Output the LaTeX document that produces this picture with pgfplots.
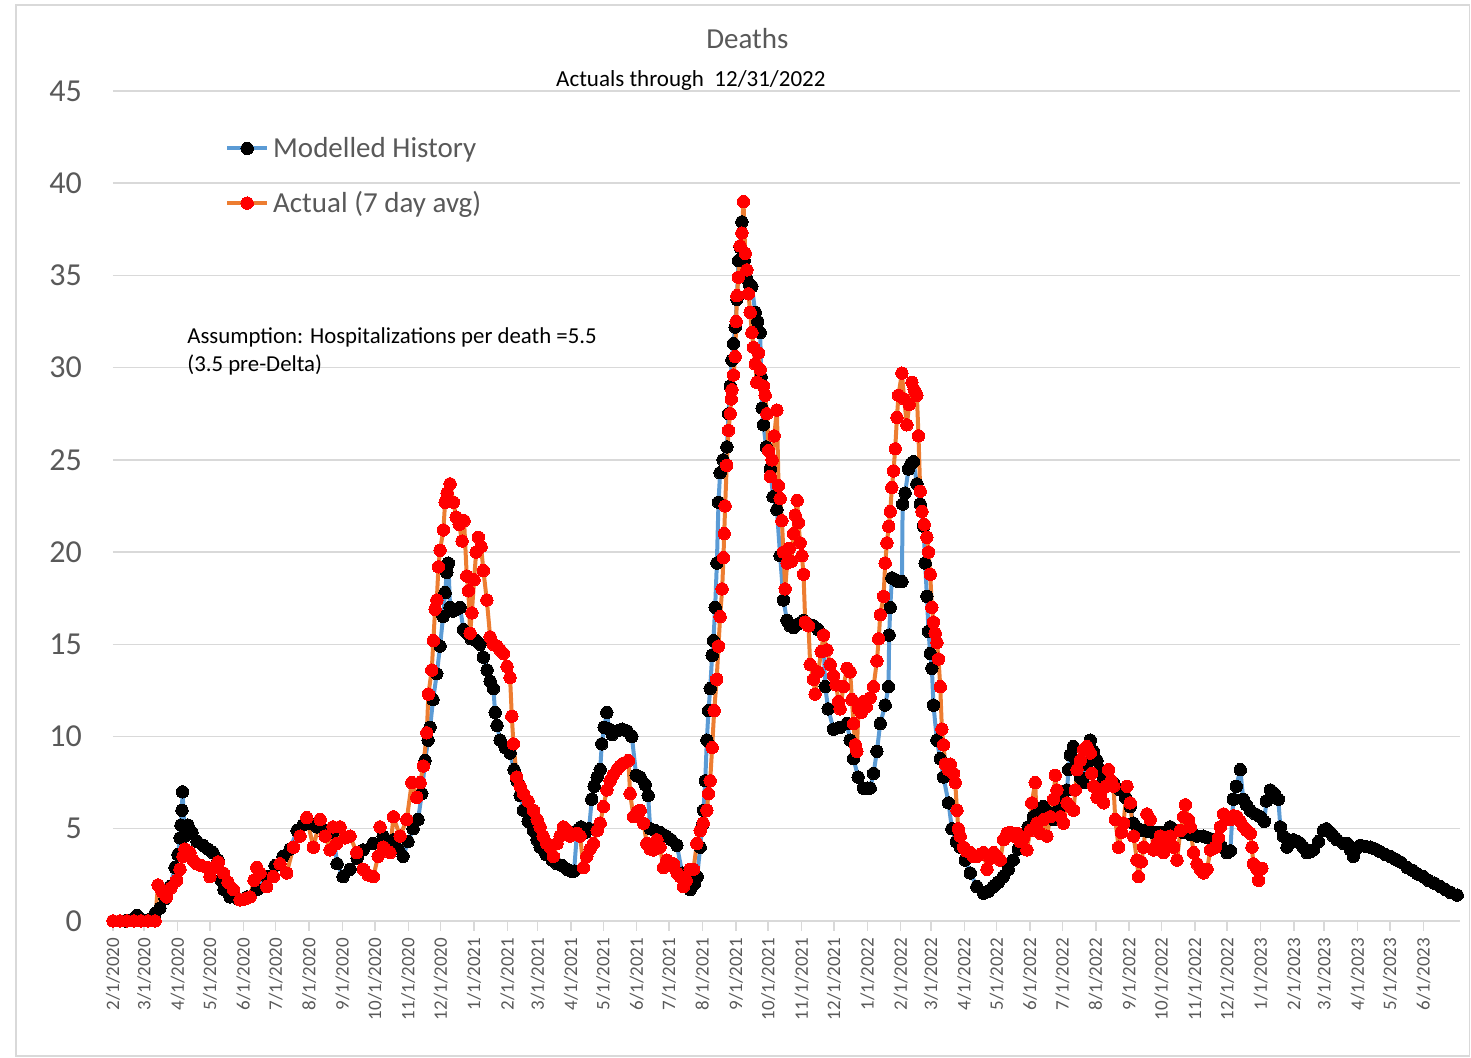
\documentclass[border=0pt]{standalone}
\usepackage{fontspec}
\setmainfont{Carlito}
\usepackage{pgfplots}
\pgfplotsset{compat=1.18}
\definecolor{lineblue}{HTML}{5B9BD5}
\definecolor{lineorange}{HTML}{ED7D31}
\definecolor{markred}{HTML}{FF0000}
\definecolor{gridgray}{HTML}{D9D9D9}
\definecolor{textgray}{HTML}{595959}

\begin{document}
\begin{tikzpicture}
\begin{axis}[
  scale only axis, width=673.5pt, height=415pt,
  xmin=0, xmax=1250, ymin=0, ymax=45,
  ytick={0,5,...,45},
  ymajorgrids, grid style={gridgray, line width=0.75pt},
  xtick={0,29,60,90,121,151,182,213,243,274,304,335,366,394,425,455,486,516,547,578,608,639,669,700,731,759,790,820,851,881,912,943,973,1004,1034,1065,1096,1124,1155,1185,1216},
  xticklabels={2/1/2020,3/1/2020,4/1/2020,5/1/2020,6/1/2020,7/1/2020,8/1/2020,9/1/2020,10/1/2020,11/1/2020,12/1/2020,1/1/2021,2/1/2021,3/1/2021,4/1/2021,5/1/2021,6/1/2021,7/1/2021,8/1/2021,9/1/2021,10/1/2021,11/1/2021,12/1/2021,1/1/2022,2/1/2022,3/1/2022,4/1/2022,5/1/2022,6/1/2022,7/1/2022,8/1/2022,9/1/2022,10/1/2022,11/1/2022,12/1/2022,1/1/2023,2/1/2023,3/1/2023,4/1/2023,5/1/2023,6/1/2023},
  x tick label style={rotate=90, anchor=east, font=\fontsize{9.5}{11}\selectfont, text=textgray},
  y tick label style={font=\fontsize{16}{19}\selectfont, text=textgray, xshift=-7pt},
  /pgf/number format/assume math mode=true,
  axis x line*=bottom, axis y line*=left,
  x axis line style={gridgray, line width=0.75pt, -},
  y axis line style={draw=none},
  ytick style={draw=none},
  xtick style={gridgray, line width=0.75pt},
  tick align=outside, major tick length=5pt,
  clip=false,
  legend style={at={(axis description cs:0.083,0.950)}, anchor=north west, draw=none, fill=none,
    font=\fontsize{14.5}{17}\selectfont, text=textgray, row sep=11.5pt, inner sep=0pt, cells={anchor=west}},
  legend image code/.code={\draw[#1, mark repeat=2, mark phase=2] plot coordinates {(0pt,0pt) (10pt,0pt) (20pt,0pt)};},
]
% Modelled History
\addplot[lineblue, line width=2pt, line join=round, mark=*, mark size=3.1pt, mark options={draw=black, fill=black, line width=0pt}] coordinates {
(0,0) (11.1,0) (18.6,0.1) (22.3,0.3) (26.0,0.1) (34.3,0.1) (39.0,0.4) (43.6,0.7) (48.3,1.2) (52.9,1.86) (57.6,2.9) (60.3,3.6) (62.2,4.5) (63.1,5.2) (64.0,6.0) (64.5,7.0) (66.8,4.6) (69.6,5.2) (73.3,4.8) (78.0,4.3) (83.5,4.1) (88.2,3.9) (92.8,3.7) (97.5,3.3) (100.3,2.2) (103.0,1.7) (108.6,1.3) (116.0,1.2) (124.4,1.3) (133.7,1.7) (143.0,2.4) (150.4,3.0) (157.8,3.5) (164.3,3.9) (170.8,4.9) (176.4,5.2) (181.9,5.3) (189.4,5.1) (196.8,4.9) (204.2,4.8) (208.0,3.1) (213.5,2.4) (220.0,2.8) (226.5,3.4) (232.1,3.85) (241.3,4.2) (250.6,4.6) (259.9,4.4) (264.6,3.9) (269.2,3.5) (273.8,4.3) (278.5,5.0) (283.1,5.5) (286.6,6.9) (289.6,8.7) (292.4,9.8) (294.3,10.5) (297.0,12.0) (300.5,13.4) (303.5,14.9) (306.3,16.5) (308.2,17.8) (309.8,18.9) (311.2,19.4) (312.8,17.0) (315.6,16.8) (319.0,16.9) (322.1,17.0) (325.2,15.8) (328.6,15.6) (332.3,15.3) (337.0,15.2) (340.7,15.0) (343.7,14.3) (347.2,13.6) (350.0,13.0) (353.0,12.6) (354.6,11.3) (356.4,10.6) (359.2,9.8) (363.9,9.4) (368.5,9.1) (372.2,8.2) (375.0,7.6) (377.8,6.8) (380.9,6.0) (385.2,5.4) (390.1,4.9) (393.6,4.4) (396.4,4.0) (401.9,3.6) (407.5,3.3) (412.1,3.1) (416.8,3.0) (421.4,2.8) (425.1,2.7) (427.9,2.7) (430.7,4.9) (434.4,5.1) (438.1,4.8) (441.8,5.0) (444.3,6.6) (446.5,7.3) (449.3,7.8) (452.1,8.2) (453.6,9.6) (455.8,10.5) (458.3,11.3) (460.4,10.4) (463.2,10.1) (467.8,10.3) (472.5,10.4) (477.1,10.3) (481.5,10.0) (485.5,7.9) (489.2,7.8) (493.8,7.4) (496.6,6.8) (498.5,5.0) (503.1,4.9) (507.7,4.8) (513.3,4.6) (518.0,4.4) (523.3,4.1) (528.2,2.6) (532.8,2.0) (535.6,1.7) (539.4,2.0) (542.1,2.4) (544.9,4.0) (546.8,5.2) (548.0,6.0) (549.6,7.6) (551.1,9.8) (552.6,11.4) (554.2,12.6) (556.0,14.4) (557.2,15.2) (558.8,17.0) (560.4,19.4) (561.9,22.7) (563.4,24.3) (566.2,25.0) (569.7,25.7) (571.2,27.5) (572.8,29.0) (574.3,30.4) (575.8,31.3) (577.4,32.2) (579.0,33.7) (580.4,35.8) (582.0,36.5) (583.6,37.9) (585.7,35.8) (588.2,34.8) (590.4,34.5) (592.9,34.4) (596.0,33.0) (598.3,32.5) (600.6,31.9) (601.5,29.5) (602.4,27.8) (603.6,26.9) (606.2,25.7) (609.9,24.5) (612.6,23.0) (616.1,22.3) (619.1,19.8) (622.2,17.4) (625.4,16.3) (628.4,16.0) (631.5,15.9) (635.9,16.1) (640.8,16.3) (645.1,16.1) (650.1,16.0) (654.4,15.8) (659.3,15.5) (660.9,12.7) (663.7,11.5) (668.6,10.4) (674.8,10.5) (681.1,10.7) (684.1,9.8) (687.2,8.8) (691.5,7.8) (696.5,7.2) (699.9,7.2) (702.7,7.2) (705.8,8.0) (708.9,9.2) (712.0,10.7) (716.6,11.7) (719.7,12.7) (720.3,15.5) (721.3,17.0) (722.8,18.6) (725.9,18.5) (728.7,18.4) (732.1,18.4) (732.8,22.6) (735.1,23.2) (738.2,24.5) (740.7,24.8) (742.9,24.9) (746.0,23.7) (749.1,22.6) (752.2,21.4) (753.7,19.4) (755.3,17.6) (756.8,15.7) (758.4,14.5) (759.9,13.7) (761.4,11.7) (764.6,9.8) (767.7,8.8) (770.7,7.8) (775.4,6.4) (778.5,5.0) (782.5,4.3) (786.2,4.0) (790.9,3.3) (795.5,2.6) (801.7,1.86) (807.9,1.5) (812.2,1.6) (816.9,1.86) (821.5,2.1) (826.1,2.4) (830.8,2.8) (835.4,3.3) (840.1,3.9) (844.7,4.6) (849.3,5.1) (854.0,5.65) (858.6,6.0) (863.3,6.2) (867.9,5.9) (872.6,5.5) (877.2,6.0) (881.8,6.6) (885.3,7.1) (886.8,8.2) (888.3,9.0) (891.1,9.45) (894.6,8.6) (897.6,7.8) (900.4,7.5) (903.2,8.5) (906.9,9.8) (909.7,9.2) (913.1,8.7) (916.2,8.2) (919.0,7.8) (923.6,7.6) (928.3,7.5) (934.7,7.1) (939.4,6.7) (944.0,6.2) (946.8,5.3) (951.5,5.0) (956.1,4.9) (960.7,4.85) (965.4,4.8) (970.0,4.8) (974.7,4.8) (981.2,5.1) (986.7,4.9) (993.3,4.8) (999.7,4.7) (1006.2,4.6) (1011.9,4.6) (1016.5,4.5) (1021.1,4.4) (1027.6,4.1) (1033.8,3.7) (1036.9,3.8) (1039.6,6.6) (1042.4,7.3) (1046.1,8.2) (1048.9,6.6) (1051.7,6.3) (1055.4,6.0) (1060.0,5.8) (1064.7,5.65) (1068.4,5.4) (1070.3,6.5) (1074.0,7.1) (1077.7,6.9) (1081.4,6.6) (1083.3,5.1) (1086.1,4.6) (1089.5,4.0) (1092.6,4.3) (1095.3,4.4) (1099.1,4.3) (1101.8,4.2) (1104.6,4.0) (1108.0,3.7) (1111.1,3.75) (1113.9,3.85) (1118.6,4.3) (1123.2,4.9) (1126.0,5.0) (1129.7,4.8) (1132.5,4.6) (1135.9,4.4) (1141.8,4.2) (1145.5,4.2) (1148.3,3.85) (1151.1,3.5) (1153.8,3.9) (1157.6,4.1) (1162.2,4.05) (1166.8,4.0) (1171.5,3.9) (1176.1,3.75) (1180.8,3.6) (1185.4,3.5) (1190.1,3.35) (1194.7,3.2) (1200.9,2.9) (1205.9,2.75) (1210.5,2.55) (1216.1,2.4) (1220.7,2.2) (1226.3,2.05) (1231.9,1.86) (1236.5,1.7) (1241.2,1.55) (1247.4,1.4)
};
\addlegendentry{Modelled History}
% Actual (7 day avg)
\addplot[lineorange, line width=2pt, line join=round, mark=*, mark size=3.1pt, mark options={draw=markred, fill=markred, line width=0pt}] coordinates {
(0,0) (6.5,0) (13.0,0) (19.5,0) (26.0,0) (32.5,0) (39.0,0) (41.8,1.95) (45.5,1.6) (49.8,1.3) (53.8,1.8) (59.1,2.2) (62.2,2.8) (65.0,3.5) (66.8,3.9) (71.5,3.7) (74.3,3.3) (77.7,3.1) (81.7,3.0) (87.0,2.9) (90.0,2.4) (93.8,2.9) (97.7,3.2) (102.4,2.6) (106.7,2.1) (111.7,1.7) (117.9,1.14) (122.5,1.2) (127.2,1.3) (130.9,2.2) (133.4,2.9) (136.5,2.6) (142.7,1.86) (148.8,2.4) (155.0,3.1) (161.2,2.6) (167.4,4.0) (173.6,4.6) (179.8,5.6) (185.9,4.0) (192.2,5.5) (196.8,4.6) (201.5,3.85) (204.2,5.1) (207.6,4.2) (210.7,5.1) (215.3,4.5) (220.0,4.6) (226.2,3.7) (232.3,2.8) (236.7,2.5) (241.6,2.4) (246.0,3.5) (247.8,5.1) (250.9,4.0) (257.1,3.7) (260.2,5.65) (266.4,4.6) (272.6,5.5) (277.3,7.5) (281.9,6.7) (285.0,7.5) (288.0,8.4) (291.2,10.2) (292.7,12.3) (295.8,13.6) (297.3,15.2) (298.9,16.9) (300.5,17.4) (302.0,19.2) (303.5,20.1) (306.6,21.2) (308.2,22.7) (310.0,23.2) (312.8,23.7) (315.9,22.7) (318.4,21.9) (321.2,21.5) (323.9,20.6) (325.8,21.7) (328.3,18.7) (329.8,17.9) (331.4,15.6) (333.0,16.7) (335.1,18.5) (337.0,20.0) (339.1,20.8) (341.6,20.3) (343.7,19.0) (346.9,17.4) (350.0,15.4) (352.7,15.0) (356.2,14.9) (359.2,14.7) (362.3,14.5) (365.7,13.8) (368.5,13.2) (370.1,11.1) (371.6,9.6) (374.7,7.8) (377.8,7.3) (380.9,6.9) (385.2,6.5) (390.1,6.0) (393.6,5.5) (396.4,5.1) (399.1,4.6) (402.6,4.2) (405.6,4.0) (408.7,3.5) (412.1,4.2) (414.9,4.6) (418.0,5.1) (421.4,4.9) (424.2,4.6) (430.4,4.75) (433.5,4.6) (436.6,2.9) (439.7,3.5) (442.8,3.9) (445.8,4.2) (449.3,4.9) (452.1,5.3) (455.1,6.2) (458.3,7.1) (461.3,7.6) (464.1,7.9) (467.6,8.2) (470.6,8.4) (473.7,8.55) (478.3,8.7) (479.9,6.9) (483.0,5.65) (486.1,5.9) (489.2,6.0) (492.3,5.3) (495.4,4.2) (498.5,3.9) (501.5,3.85) (504.7,4.4) (507.7,4.0) (510.8,2.9) (514.0,3.3) (517.0,3.0) (520.1,3.1) (523.5,2.6) (526.3,2.4) (529.4,1.86) (531.9,2.2) (535.6,2.8) (538.7,2.8) (541.8,4.2) (544.9,4.9) (547.7,5.3) (551.1,6.0) (552.6,6.9) (554.2,7.6) (556.0,9.4) (557.9,11.4) (560.2,13.1) (561.9,14.9) (563.4,16.5) (565.3,18.0) (566.5,19.7) (567.2,21.0) (568.1,22.5) (569.5,24.7) (571.2,26.6) (572.8,27.5) (573.7,28.3) (574.3,28.8) (575.8,29.6) (577.4,30.6) (578.3,32.5) (579.0,33.9) (580.4,34.9) (582.0,36.6) (583.6,37.3) (585.1,39.0) (586.7,36.2) (588.2,35.3) (589.7,34.0) (591.3,33.0) (592.9,31.9) (594.4,31.1) (596.0,30.2) (597.5,29.2) (599.0,30.8) (600.6,29.9) (603.6,29.0) (605.2,28.5) (606.8,27.5) (608.3,25.5) (609.9,24.1) (611.7,25.0) (613.6,26.3) (616.1,27.7) (617.6,23.6) (619.1,22.9) (620.7,21.7) (622.2,20.0) (623.8,18.0) (625.6,19.4) (627.5,20.2) (629.4,19.5) (631.5,21.0) (633.1,22.0) (634.9,22.8) (636.1,21.6) (637.7,20.5) (639.3,19.8) (640.8,18.8) (642.4,16.2) (645.4,16.0) (647.0,13.9) (650.1,13.1) (651.6,12.3) (654.4,13.5) (657.2,14.6) (659.3,15.5) (662.5,14.7) (665.5,13.9) (668.6,13.3) (671.1,12.8) (673.3,11.9) (674.8,11.5) (677.9,12.7) (681.1,13.7) (684.1,13.5) (685.7,12.0) (687.2,10.7) (688.8,9.55) (690.3,9.2) (691.8,11.5) (694.3,11.3) (696.5,11.9) (699.0,11.6) (702.7,12.1) (705.8,12.7) (708.9,14.1) (710.6,15.3) (712.0,16.6) (715.1,17.6) (716.6,19.4) (718.2,20.5) (719.9,21.4) (721.3,22.2) (722.8,23.5) (724.3,24.4) (725.9,25.6) (727.5,27.3) (728.9,28.5) (732.1,29.7) (734.2,28.3) (736.7,26.9) (738.9,28.0) (741.4,29.2) (743.5,28.8) (746.0,28.5) (747.5,26.3) (749.1,23.3) (750.7,22.2) (752.8,21.5) (755.3,20.8) (756.8,20.0) (758.4,18.8) (759.9,17.0) (761.4,16.2) (763.0,15.6) (764.6,15.1) (766.1,14.2) (767.7,12.7) (769.2,10.4) (770.7,9.55) (772.3,8.5) (775.1,8.2) (777.0,8.5) (780.0,8.0) (781.6,7.5) (783.2,6.0) (784.4,5.0) (786.2,4.6) (789.3,4.0) (791.8,3.8) (795.5,3.7) (798.3,3.5) (801.7,3.5) (804.8,3.6) (807.9,3.7) (811.1,2.8) (814.1,3.4) (817.2,3.7) (820.3,3.5) (823.4,3.3) (826.4,4.4) (829.6,4.75) (832.6,4.8) (835.7,4.6) (838.9,4.75) (841.9,4.3) (845.0,4.5) (848.1,3.85) (851.2,4.9) (852.6,6.4) (855.8,7.5) (857.4,5.3) (860.5,4.75) (863.6,5.5) (866.7,4.6) (869.8,5.65) (872.8,6.6) (874.4,7.9) (876.0,7.1) (879.3,5.65) (882.1,5.3) (885.3,6.4) (888.3,6.2) (891.4,6.0) (893.0,7.1) (894.6,8.2) (897.6,8.7) (900.7,9.3) (903.8,9.45) (906.9,9.1) (908.3,8.0) (910.0,7.3) (913.1,6.7) (916.2,6.9) (919.3,6.4) (921.8,7.3) (923.9,8.2) (926.4,7.6) (928.5,7.3) (930.1,5.5) (933.2,4.0) (935.7,4.8) (937.8,5.3) (941.0,7.3) (944.0,6.4) (947.1,4.6) (950.2,3.3) (951.7,2.4) (954.2,3.2) (956.4,4.0) (959.5,5.8) (962.6,5.5) (965.6,3.85) (968.8,4.2) (971.9,4.6) (974.9,3.7) (978.1,4.2) (981.2,4.6) (984.3,4.0) (987.4,3.3) (990.5,4.9) (993.5,5.65) (995.1,6.3) (997.9,5.5) (999.7,5.1) (1002.8,3.7) (1006.0,3.1) (1009.0,2.8) (1012.1,2.6) (1015.3,2.8) (1018.4,3.85) (1023.0,4.0) (1025.8,4.5) (1027.6,5.1) (1030.6,5.8) (1033.8,5.6) (1036.9,5.5) (1039.9,5.7) (1043.1,5.65) (1046.1,5.4) (1049.2,5.1) (1052.3,4.9) (1055.4,4.75) (1057.0,4.0) (1058.2,3.1) (1061.6,2.8) (1063.1,2.2) (1066.2,2.85)
};
\addlegendentry{Actual (7 day avg)}

\node[font=\fontsize{14.5}{17}\selectfont, text=textgray] at (axis description cs:0.471,1.0627) {Deaths};
\node[font=\fontsize{11.5}{13.5}\selectfont] at (axis description cs:0.429,1.0125) {Actuals through\ \ 12/31/2022};
\node[anchor=north west, align=left, inner sep=0pt, font=\fontsize{11.4}{14}\selectfont] at (axis description cs:0.0549,0.7156) {Assumption: Hospitalizations per death =5.5\\(3.5 pre-Delta)};
\draw[gridgray, line width=0.75pt] (axis description cs:-0.072,-0.163) rectangle (axis description cs:1.0072,1.1036);
\path (axis description cs:-0.0839,-0.165) rectangle (axis description cs:1.0082,1.1096);
\end{axis}
\end{tikzpicture}
\end{document}
